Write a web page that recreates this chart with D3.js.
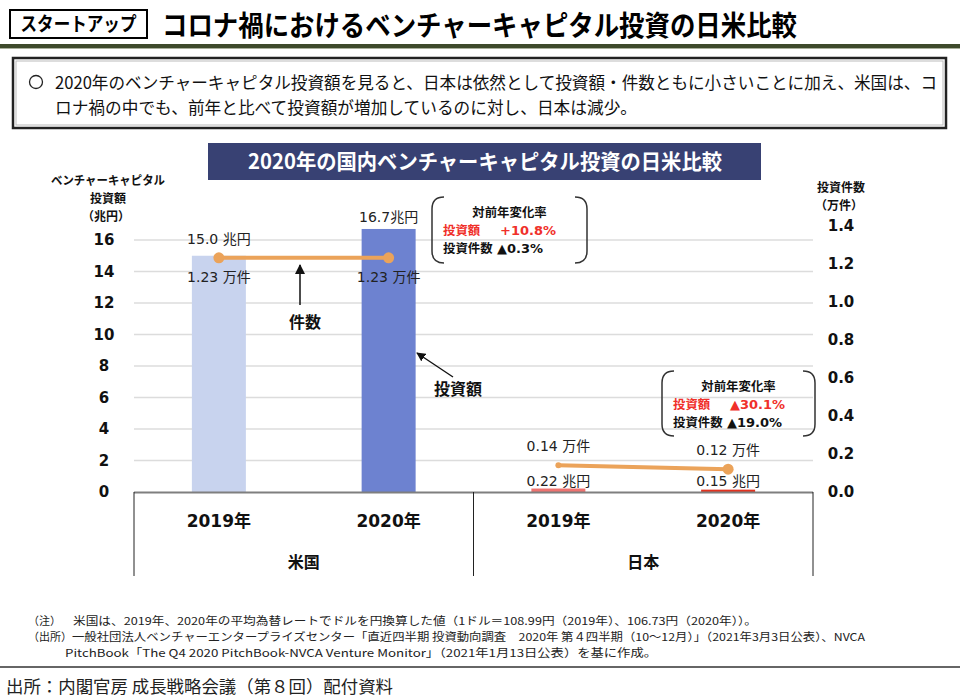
<!DOCTYPE html>
<html><head><meta charset="utf-8">
<script src="https://cdn.jsdelivr.net/npm/d3@7"></script>
<style>
body{margin:0;background:#fff;}
svg{display:block;}
</style></head>
<body>
<svg id="chart" width="960" height="700"></svg>
<script>
// ---- data ----
const categories = ["2019年", "2020年", "2019年", "2020年"];
const groups = ["米国", "日本"];
const groupOf = [0, 0, 1, 1];
const investment = [15.0, 16.7, 0.22, 0.15];          // 兆円
const counts = [1.23, 1.23, 0.14, 0.12];              // 万件
const investLabels = ["15.0 兆円", "16.7兆円", "0.22 兆円", "0.15 兆円"];
const countLabels = ["1.23 万件", "1.23 万件", "0.14 万件", "0.12 万件"];
const leftTicks = [0, 2, 4, 6, 8, 10, 12, 14, 16];
const rightTicks = [0, 0.2, 0.4, 0.6, 0.8, 1.0, 1.2, 1.4];
const barColors = ["#c8d3ee", "#6d82d0", "#ee7370", "#e2321f"];
const changeUS = { amount: "+10.8%", count: "▲0.3%" };
const changeJP = { amount: "▲30.1%", count: "▲19.0%" };

const svg = d3.select("#chart");
const CJK = "'Noto Sans CJK JP', sans-serif";
const NUM = "'DejaVu Sans', 'Noto Sans CJK JP', sans-serif";

// ---- header ----
svg.append("rect").attr("x", 10).attr("y", 10).attr("width", 137).attr("height", 28)
  .attr("fill", "#fff").attr("stroke", "#000").attr("stroke-width", 2);
svg.append("text").attr("x", 78.5).attr("y", 31).attr("text-anchor", "middle")
  .attr("font-family", CJK).attr("font-weight", 700).attr("font-size", 19)
  .attr("textLength", 116).attr("lengthAdjust", "spacingAndGlyphs").text("スタートアップ");
svg.append("text").attr("x", 162).attr("y", 36)
  .attr("font-family", CJK).attr("font-weight", 700).attr("font-size", 28)
  .attr("textLength", 635).attr("lengthAdjust", "spacingAndGlyphs")
  .text("コロナ禍におけるベンチャーキャピタル投資の日米比較");
svg.append("rect").attr("x", 0).attr("y", 44).attr("width", 960).attr("height", 4).attr("fill", "#3e4a2c");
svg.append("rect").attr("x", 0).attr("y", 48).attr("width", 960).attr("height", 1).attr("fill", "#a9b09c");

// text box
svg.append("rect").attr("x", 13).attr("y", 58).attr("width", 933).attr("height", 70)
  .attr("fill", "#fff").attr("stroke", "#222").attr("stroke-width", 2.5);
svg.append("rect").attr("x", 16).attr("y", 61).attr("width", 927).attr("height", 64)
  .attr("fill", "none").attr("stroke", "#bbb").attr("stroke-width", 1);
svg.append("circle").attr("cx", 36).attr("cy", 82).attr("r", 6.5)
  .attr("fill", "none").attr("stroke", "#222").attr("stroke-width", 1.3);
svg.append("text").attr("x", 55).attr("y", 89)
  .attr("font-family", CJK).attr("font-size", 17).attr("fill", "#111")
  .attr("textLength", 882).attr("lengthAdjust", "spacingAndGlyphs")
  .text("2020年のベンチャーキャピタル投資額を見ると、日本は依然として投資額・件数ともに小さいことに加え、米国は、コ");
svg.append("text").attr("x", 55).attr("y", 114)
  .attr("font-family", CJK).attr("font-size", 17).attr("fill", "#111")
  .attr("textLength", 582).attr("lengthAdjust", "spacingAndGlyphs")
  .text("ロナ禍の中でも、前年と比べて投資額が増加しているのに対し、日本は減少。");

// chart title box
svg.append("rect").attr("x", 208).attr("y", 143).attr("width", 553).attr("height", 37).attr("fill", "#384173");
svg.append("text").attr("x", 485).attr("y", 169).attr("text-anchor", "middle")
  .attr("font-family", CJK).attr("font-weight", 700).attr("font-size", 21).attr("fill", "#fff")
  .attr("textLength", 474).attr("lengthAdjust", "spacingAndGlyphs")
  .text("2020年の国内ベンチャーキャピタル投資の日米比較");

// ---- scales ----
const x = d3.scaleBand().domain(d3.range(categories.length)).range([134, 813]).padding(0);
const yL = d3.scaleLinear().domain([0, 16]).range([492, 240]);
const yR = d3.scaleLinear().domain([0, 1.4]).range([492, 225.5]);
const barW = 54;
const cx = i => x(i) + x.bandwidth() / 2;

// gridlines
svg.append("g").selectAll("line").data(leftTicks.filter(d => d > 0)).join("line")
  .attr("x1", 134).attr("x2", 813).attr("y1", d => yL(d)).attr("y2", d => yL(d))
  .attr("stroke", "#dcdcdc").attr("stroke-width", 1.5);

// left axis
const gL = svg.append("g").attr("transform", "translate(122,0)")
  .call(d3.axisLeft(yL).tickValues(leftTicks).tickSize(0).tickPadding(0).tickFormat(d3.format("d")));
gL.select(".domain").remove();
gL.selectAll("text").attr("font-family", NUM).attr("font-weight", 700).attr("font-size", 15)
  .attr("fill", "#111").attr("text-anchor", "middle").attr("x", -18);

// right axis
const gR = svg.append("g").attr("transform", "translate(841,0)")
  .call(d3.axisRight(yR).tickValues(rightTicks).tickSize(0).tickPadding(0).tickFormat(d3.format(".1f")));
gR.select(".domain").remove();
gR.selectAll("text").attr("font-family", NUM).attr("font-weight", 700).attr("font-size", 15)
  .attr("fill", "#111").attr("text-anchor", "middle").attr("x", 0);

// axis titles
function titleLines(xs, ys, lines, len) {
  lines.forEach((s, i) => {
    const t = svg.append("text").attr("x", xs[i]).attr("y", ys[i]).attr("text-anchor", "middle")
      .attr("font-family", CJK).attr("font-weight", 700).attr("font-size", 12).attr("fill", "#111").text(s);
    if (len[i]) t.attr("textLength", len[i]).attr("lengthAdjust", "spacingAndGlyphs");
  });
}
titleLines([108, 108, 106], [185, 203, 221], ["ベンチャーキャピタル", "投資額", "（兆円）"], [114, 0, 0]);
titleLines([841, 839], [192, 210], ["投資件数", "（万件）"], [0, 0]);

// bars
svg.append("g").selectAll("rect").data(investment).join("rect")
  .attr("x", (d, i) => cx(i) - barW / 2).attr("width", barW)
  .attr("y", d => yL(d)).attr("height", d => yL(0) - yL(d))
  .attr("fill", (d, i) => barColors[i]);

// x axis
svg.append("line").attr("x1", 134).attr("x2", 813).attr("y1", 492.5).attr("y2", 492.5)
  .attr("stroke", "#7f7f7f").attr("stroke-width", 2);
[134, 473.5, 813].forEach(xx => {
  svg.append("line").attr("x1", xx).attr("x2", xx).attr("y1", 492).attr("y2", 576)
    .attr("stroke", "#222").attr("stroke-width", 1);
});
svg.append("g").selectAll("text").data(categories).join("text")
  .attr("x", (d, i) => cx(i)).attr("y", 527).attr("text-anchor", "middle")
  .attr("font-family", NUM).attr("font-weight", 700).attr("font-size", 17).attr("fill", "#111")
  .text(d => d);
svg.append("g").selectAll("text").data(groups).join("text")
  .attr("x", (d, g) => (cx(2 * g) + cx(2 * g + 1)) / 2).attr("y", 568).attr("text-anchor", "middle")
  .attr("font-family", CJK).attr("font-weight", 700).attr("font-size", 16).attr("fill", "#111")
  .text(d => d);

// count line (per group)
const line = d3.line().x(d => cx(d.i)).y(d => yR(d.v));
groups.forEach((g, gi) => {
  const pts = counts.map((v, i) => ({ v, i })).filter(p => groupOf[p.i] === gi);
  svg.append("path").attr("d", line(pts)).attr("fill", "none")
    .attr("stroke", "#eba35a").attr("stroke-width", 4).attr("stroke-linecap", "round");
});
svg.append("g").selectAll("circle").data(counts).join("circle")
  .attr("cx", (d, i) => cx(i)).attr("cy", d => yR(d))
  .attr("r", (d, i) => i === 2 ? 3 : 5.5).attr("fill", "#eba35a");

// data labels
const invLabelY = [239, 217, 481, 481];
const cntLabelY = [277, 277, 446, 450];
svg.append("g").selectAll("text").data(investLabels).join("text")
  .attr("x", (d, i) => cx(i)).attr("y", (d, i) => invLabelY[i] + 5).attr("text-anchor", "middle")
  .attr("font-family", NUM).attr("font-size", 14).attr("fill", "#222").text(d => d);
svg.append("g").selectAll("text").data(countLabels).join("text")
  .attr("x", (d, i) => cx(i)).attr("y", (d, i) => cntLabelY[i] + 5).attr("text-anchor", "middle")
  .attr("font-family", NUM).attr("font-size", 14).attr("fill", "#222").text(d => d);

// annotations with arrows
const defs = svg.append("defs");
defs.append("marker").attr("id", "ah").attr("viewBox", "0 0 10 10").attr("refX", 9).attr("refY", 5)
  .attr("markerWidth", 7).attr("markerHeight", 7).attr("orient", "auto-start-reverse")
  .append("path").attr("d", "M0,0 L10,5 L0,10 z").attr("fill", "#111");
svg.append("line").attr("x1", 300).attr("y1", 305).attr("x2", 300).attr("y2", 265)
  .attr("stroke", "#111").attr("stroke-width", 1.5).attr("marker-end", "url(#ah)");
svg.append("text").attr("x", 305).attr("y", 328).attr("text-anchor", "middle")
  .attr("font-family", CJK).attr("font-weight", 700).attr("font-size", 16).attr("fill", "#111").text("件数");
svg.append("line").attr("x1", 453).attr("y1", 377).attr("x2", 417).attr("y2", 353)
  .attr("stroke", "#111").attr("stroke-width", 1.3).attr("marker-end", "url(#ah)");
svg.append("text").attr("x", 458).attr("y", 395).attr("text-anchor", "middle")
  .attr("font-family", CJK).attr("font-weight", 700).attr("font-size", 16).attr("fill", "#111").text("投資額");

// callouts
function callout(x0, y0, x1, y1, ch) {
  const r = 12;
  const g = svg.append("g");
  g.append("path").attr("d", `M${x0 + r},${y0} Q${x0},${y0} ${x0},${y0 + r} L${x0},${y1 - r} Q${x0},${y1} ${x0 + r},${y1}`)
    .attr("fill", "none").attr("stroke", "#333").attr("stroke-width", 1.5);
  g.append("path").attr("d", `M${x1 - r},${y0} Q${x1},${y0} ${x1},${y0 + r} L${x1},${y1 - r} Q${x1},${y1} ${x1 - r},${y1}`)
    .attr("fill", "none").attr("stroke", "#333").attr("stroke-width", 1.5);
  const tx = x0 + 11;
  const fs = 12.4;
  g.append("text").attr("x", (x0 + x1) / 2).attr("y", y0 + 20).attr("text-anchor", "middle")
    .attr("font-family", CJK).attr("font-weight", 700).attr("font-size", fs).attr("fill", "#111").text("対前年変化率");
  g.append("text").attr("x", tx).attr("y", y0 + 38)
    .attr("font-family", CJK).attr("font-weight", 700).attr("font-size", fs).attr("fill", "#f0302a").text("投資額");
  g.append("text").attr("x", tx + 57).attr("y", y0 + 38)
    .attr("font-family", NUM).attr("font-weight", 700).attr("font-size", 13).attr("fill", "#f0302a").text(ch.amount);
  g.append("text").attr("x", tx).attr("y", y0 + 56)
    .attr("font-family", CJK).attr("font-weight", 700).attr("font-size", fs).attr("fill", "#111").text("投資件数");
  g.append("text").attr("x", tx + 54).attr("y", y0 + 56)
    .attr("font-family", NUM).attr("font-weight", 700).attr("font-size", 13).attr("fill", "#111").text(ch.count);
}
callout(432, 197, 587, 263, changeUS);
callout(662, 371, 815, 436, changeJP);

// footnotes
function fn(xp, y, s, len) {
  const t = svg.append("text").attr("x", xp).attr("y", y).attr("font-family", CJK)
    .attr("font-size", 11).attr("fill", "#222").text(s);
  if (len) t.attr("textLength", len).attr("lengthAdjust", "spacingAndGlyphs");
}
fn(28, 625, "（注）");
fn(73, 625, "米国は、2019年、2020年の平均為替レートでドルを円換算した値（1ドル＝108.99円（2019年）、106.73円（2020年））。", 684);
fn(28, 641, "（出所）");
fn(72, 641, "一般社団法人ベンチャーエンタープライズセンター「直近四半期 投資動向調査　2020年 第４四半期（10～12月）」（2021年3月3日公表）、NVCA", 793);
fn(65, 657, "PitchBook「The Q4 2020 PitchBook-NVCA Venture Monitor」（2021年1月13日公表）を基に作成。", 592);
svg.append("line").attr("x1", 0).attr("x2", 960).attr("y1", 667).attr("y2", 667).attr("stroke", "#333").attr("stroke-width", 1.3);
svg.append("text").attr("x", 6).attr("y", 693).attr("font-family", CJK).attr("font-size", 17).attr("fill", "#222")
  .attr("textLength", 387).attr("lengthAdjust", "spacingAndGlyphs")
  .text("出所：内閣官房 成長戦略会議（第８回）配付資料");
</script>
</body></html>
